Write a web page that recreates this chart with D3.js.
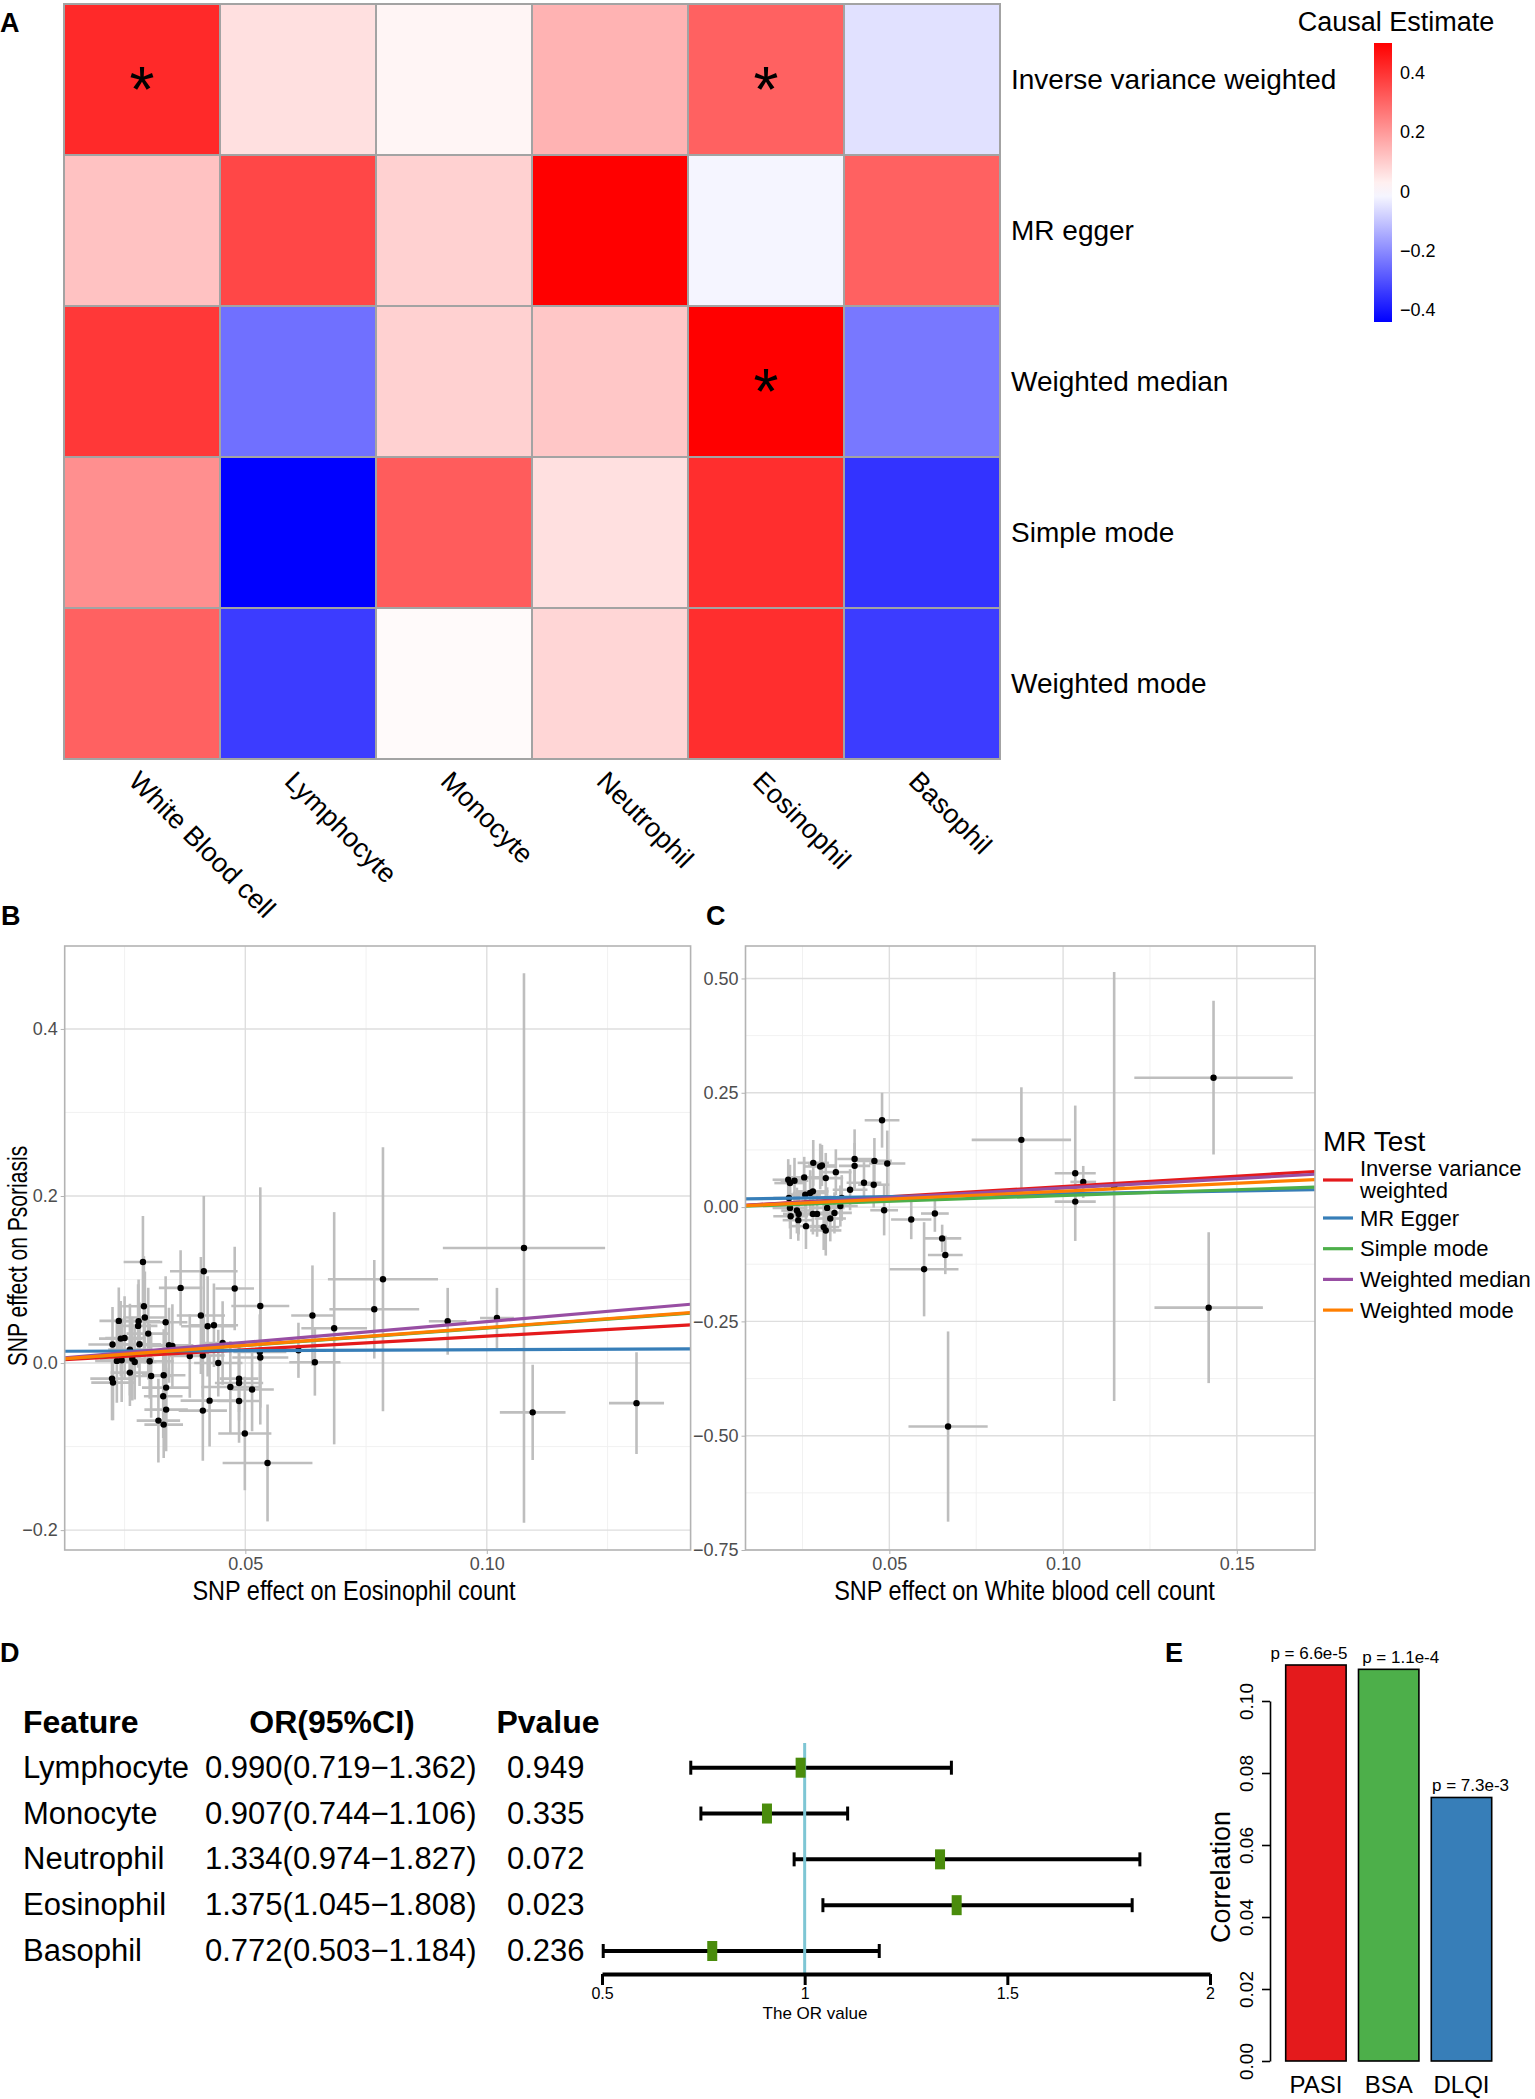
<!DOCTYPE html>
<html>
<head>
<meta charset="utf-8">
<script src="https://cdn.jsdelivr.net/npm/d3@7"></script>
<style>
  body { margin: 0; background: #fff; }
  svg { display: block; }
  svg text { font-family: "Liberation Sans", Arial, Helvetica, sans-serif; }
</style>
</head>
<body>
<svg id="fig" width="1535" height="2099"></svg>
<script>
// ---------- A: heatmap of causal estimates ----------
const cellTypes = ["White Blood cell", "Lymphocyte", "Monocyte", "Neutrophil", "Eosinophil", "Basophil"];
const heatMethods = ["Inverse variance weighted", "MR egger", "Weighted median", "Simple mode", "Weighted mode"];
const causalEst = [
  [0.42, 0.06, 0.02, 0.15, 0.31, -0.052],
  [0.12, 0.36, 0.09, 0.50, -0.017, 0.31],
  [0.39, -0.246, 0.09, 0.11, 0.50, -0.233],
  [0.22, -0.44, 0.32, 0.06, 0.41, -0.352],
  [0.31, -0.337, 0.01, 0.08, 0.41, -0.337]
];
const sigStars = [
  ["*", "", "", "", "*", ""],
  ["", "", "", "", "", ""],
  ["", "", "", "", "*", ""],
  ["", "", "", "", "", ""],
  ["", "", "", "", "", ""]
];
const legendTicks = [-0.4, -0.2, 0, 0.2, 0.4];

// ---------- B / C: MR scatter plots  [beta exposure, beta outcome, se exposure, se outcome] ----------
const mrTests = ["Inverse variance weighted", "MR Egger", "Simple mode", "Weighted median", "Weighted mode"];
const mrColors = ["#E41A1C", "#377EB8", "#4DAF4A", "#984EA3", "#FF7F00"];

const eosSnps = [
  [0.1077, 0.1377, 0.0168, 0.329], [0.1095, -0.059, 0.0068, 0.057], [0.1310, -0.048, 0.0057, 0.061],
  [0.1021, 0.054, 0.0035, 0.036], [0.0919, 0.050, 0.0039, 0.040], [0.0785, 0.1003, 0.0114, 0.158],
  [0.0767, 0.0644, 0.0093, 0.059], [0.0684, 0.0417, 0.0068, 0.139], [0.0639, 0.0569, 0.0044, 0.060],
  [0.0644, 0.0010, 0.0053, 0.040], [0.0610, 0.0153, 0.0049, 0.033], [0.0531, 0.0684, 0.0060, 0.142],
  [0.0531, 0.0066, 0.0058, 0.060], [0.0530, 0.0133, 0.0055, 0.045], [0.0546, -0.1196, 0.0093, 0.070],
  [0.0499, -0.0844, 0.0055, 0.068], [0.0478, 0.0892, 0.0040, 0.050], [0.0514, -0.0317, 0.0045, 0.050],
  [0.0487, -0.0238, 0.0050, 0.045], [0.0487, -0.0186, 0.0040, 0.040], [0.0469, -0.0286, 0.0060, 0.055],
  [0.0487, -0.0454, 0.0045, 0.050], [0.0444, 0.0000, 0.0050, 0.040], [0.0453, 0.0240, 0.0045, 0.050],
  [0.0435, 0.0453, 0.0050, 0.050], [0.0422, 0.0440, 0.0055, 0.060], [0.0414, 0.1100, 0.0070, 0.090],
  [0.0408, 0.0569, 0.0050, 0.070], [0.0412, 0.0090, 0.0045, 0.050], [0.0426, -0.0450, 0.0060, 0.055],
  [0.0412, -0.0569, 0.0050, 0.060], [0.0385, 0.0085, 0.0045, 0.050], [0.0366, 0.0900, 0.0045, 0.045],
  [0.0349, 0.0205, 0.0045, 0.050], [0.0342, 0.0213, 0.0050, 0.045], [0.0335, 0.0489, 0.0045, 0.055],
  [0.0336, -0.0294, 0.0050, 0.045], [0.0331, -0.0146, 0.0045, 0.055], [0.0330, -0.0398, 0.0040, 0.050],
  [0.0336, -0.0557, 0.0045, 0.050], [0.0320, -0.0689, 0.0045, 0.050], [0.0331, -0.0737, 0.0040, 0.040],
  [0.0305, -0.0154, 0.0045, 0.050], [0.0302, 0.0022, 0.0050, 0.045], [0.0299, 0.0353, 0.0045, 0.055],
  [0.0281, 0.0225, 0.0045, 0.050], [0.0288, 0.1210, 0.0040, 0.055], [0.0290, 0.0680, 0.0045, 0.060],
  [0.0292, 0.0545, 0.0045, 0.055], [0.0279, 0.0500, 0.0045, 0.050], [0.0278, 0.0445, 0.0040, 0.050],
  [0.0271, 0.0013, 0.0045, 0.045], [0.0266, 0.0053, 0.0045, 0.050], [0.0261, -0.0114, 0.0040, 0.040],
  [0.0261, 0.0161, 0.0045, 0.055], [0.0250, 0.0300, 0.0040, 0.050], [0.0242, 0.0293, 0.0045, 0.045],
  [0.0238, 0.0505, 0.0040, 0.040], [0.0244, 0.0034, 0.0045, 0.050], [0.0234, 0.0026, 0.0045, 0.050],
  [0.0225, 0.0222, 0.0050, 0.045], [0.0224, -0.0186, 0.0045, 0.050], [0.0226, -0.0234, 0.0045, 0.045]
];
const eosSlopes = [0.321, 0.021, 0.420, 0.495, 0.425];
const eosIntercepts = [0, 0.0139, 0, 0, 0];

const wbcSnps = [
  [0.1433, 0.283, 0.0228, 0.168], [0.1419, -0.220, 0.0156, 0.165], [0.1147, 0.045, 0.0030, 0.469],
  [0.1035, 0.074, 0.0059, 0.148], [0.1035, 0.012, 0.0059, 0.012], [0.1058, 0.055, 0.0037, 0.035],
  [0.0880, 0.147, 0.0143, 0.115], [0.0669, -0.480, 0.0114, 0.208], [0.0600, -0.136, 0.0099, 0.103],
  [0.0661, -0.1047, 0.0050, 0.042], [0.0652, -0.0685, 0.0055, 0.030], [0.0631, -0.0141, 0.0040, 0.040],
  [0.0563, -0.0272, 0.0058, 0.043], [0.0479, 0.190, 0.0050, 0.060], [0.0494, 0.0953, 0.0052, 0.072],
  [0.0485, -0.0069, 0.0040, 0.055], [0.0457, 0.101, 0.0050, 0.050], [0.0400, 0.105, 0.0050, 0.065],
  [0.0400, 0.0902, 0.0045, 0.050], [0.0427, 0.0533, 0.0050, 0.045], [0.0455, 0.0489, 0.0045, 0.050],
  [0.0387, 0.038, 0.0050, 0.045], [0.0346, 0.0764, 0.0045, 0.050], [0.0317, 0.0634, 0.0050, 0.055],
  [0.0301, 0.0888, 0.0045, 0.050], [0.0306, 0.091, 0.0040, 0.045], [0.0281, 0.0967, 0.0045, 0.050],
  [0.0255, 0.0649, 0.0050, 0.045], [0.0209, 0.0598, 0.0045, 0.045], [0.0227, 0.0576, 0.0040, 0.050],
  [0.0214, 0.0525, 0.0045, 0.040], [0.0280, 0.0344, 0.0045, 0.045], [0.0272, 0.0308, 0.0050, 0.050],
  [0.0258, 0.0272, 0.0045, 0.045], [0.0211, 0.0199, 0.0045, 0.050], [0.0214, -0.0018, 0.0050, 0.045],
  [0.0234, -0.0076, 0.0045, 0.050], [0.0239, -0.0149, 0.0045, 0.045], [0.0216, -0.0200, 0.0050, 0.050],
  [0.0238, -0.0286, 0.0045, 0.045], [0.0260, -0.0417, 0.0045, 0.050], [0.0280, -0.0149, 0.0050, 0.045],
  [0.0292, -0.0149, 0.0045, 0.050], [0.0321, -0.0018, 0.0050, 0.045], [0.0330, -0.0250, 0.0045, 0.050],
  [0.0342, -0.0127, 0.0050, 0.045], [0.0311, -0.0438, 0.0045, 0.050], [0.0317, -0.0511, 0.0045, 0.055],
  [0.0359, 0.0024, 0.0050, 0.045], [0.0363, 0.0199, 0.0045, 0.050]
];
const wbcSlopes = [0.451, 0.122, 0.254, 0.416, 0.348];
const wbcIntercepts = [0, 0.0168, 0, 0, 0];

// ---------- D: forest plot ----------
const features = ["Lymphocyte", "Monocyte", "Neutrophil", "Eosinophil", "Basophil"];
const orVal = [0.990, 0.907, 1.334, 1.375, 0.772];
const orLow = [0.719, 0.744, 0.974, 1.045, 0.503];
const orHigh = [1.362, 1.106, 1.827, 1.808, 1.184];
const pValues = ["0.949", "0.335", "0.072", "0.023", "0.236"];
const orTicks = [0.5, 1, 1.5, 2];

// ---------- E: correlation bars ----------
const scoreNames = ["PASI", "BSA", "DLQI"];
const corrVals = [0.110, 0.1088, 0.0732];
const corrP = ["p = 6.6e-5", "p = 1.1e-4", "p = 7.3e-3"];
const corrColors = ["#E41A1C", "#4DAF4A", "#377EB8"];
const corrTicks = [0, 0.02, 0.04, 0.06, 0.08, 0.10];

const svg = d3.select("#fig");
const defs = svg.append("defs");

function panelLetter(txt, x, y) {
  svg.append("text").attr("x", x).attr("y", y)
    .style("font-size", "27px").style("font-weight", "bold").text(txt);
}

// ================= A =================
const hx = d3.scaleBand().domain(cellTypes).range([64, 1000]);
const hy = d3.scaleBand().domain(heatMethods).range([4, 759]);
const estExtent = d3.extent(causalEst.flat());
const heatColor = d3.scaleLinear()
  .domain([estExtent[0], 0, estExtent[1]])
  .range(["#0000FF", "#FFFFFF", "#FF0000"]);

const cells = heatMethods.flatMap((m, i) =>
  cellTypes.map((c, j) => ({ m, c, v: causalEst[i][j], star: sigStars[i][j] })));

const heat = svg.append("g");
heat.selectAll("rect").data(cells).enter().append("rect")
  .attr("x", d => hx(d.c)).attr("y", d => hy(d.m))
  .attr("width", hx.bandwidth()).attr("height", hy.bandwidth())
  .attr("fill", d => heatColor(d.v))
  .attr("stroke", "#A3A3A3").attr("stroke-width", 2);

heat.selectAll(".star").data(cells.filter(d => d.star)).enter().append("text")
  .attr("class", "star")
  .attr("x", d => hx(d.c) + hx.bandwidth() / 2)
  .attr("y", d => hy(d.m) + hy.bandwidth() / 2)
  .attr("dy", "0.5em")
  .attr("text-anchor", "middle")
  .style("font-size", "64px")
  .text(d => d.star);

heat.selectAll(".rowlab").data(heatMethods).enter().append("text")
  .attr("x", 1011).attr("y", d => hy(d) + hy.bandwidth() / 2)
  .attr("dy", "0.35em").style("font-size", "28px").text(d => d);

heat.selectAll(".collab").data(cellTypes).enter().append("text")
  .attr("transform", d => `translate(${hx(d) + hx.bandwidth() / 2 - 8},776) rotate(45)`)
  .attr("dy", "0.35em").style("font-size", "27px").text(d => d);

// colour bar
const cbY = d3.scaleLinear().domain(estExtent).range([322, 43]);
const grad = defs.append("linearGradient").attr("id", "cbar")
  .attr("x1", 0).attr("y1", 1).attr("x2", 0).attr("y2", 0);
grad.selectAll("stop").data(d3.range(0, 1.0001, 0.05)).enter().append("stop")
  .attr("offset", t => t)
  .attr("stop-color", t => heatColor(estExtent[0] + t * (estExtent[1] - estExtent[0])));
svg.append("rect").attr("x", 1374).attr("y", cbY(estExtent[1]))
  .attr("width", 18).attr("height", cbY(estExtent[0]) - cbY(estExtent[1]))
  .attr("fill", "url(#cbar)");
svg.selectAll(".cbtick").data(legendTicks).enter().append("text")
  .attr("x", 1400).attr("y", d => cbY(d)).attr("dy", "0.35em")
  .style("font-size", "18px").text(d => d3.format("")(d));
svg.append("text").attr("x", 1396).attr("y", 31).attr("text-anchor", "middle")
  .style("font-size", "27px").text("Causal Estimate");
panelLetter("A", 0, 32);

// ================= B & C =================
function scatterPanel(cfg) {
  const g = svg.append("g");
  const x = d3.scaleLinear().domain(cfg.xDomain).range(cfg.xRange);
  const y = d3.scaleLinear().domain(cfg.yDomain).range(cfg.yRange);
  const [x0, x1] = cfg.xRange;
  const [yb, yt] = cfg.yRange;

  const grid = [
    { vals: cfg.xMinor, vert: true, c: "#EFEFEF", w: 0.9 },
    { vals: cfg.yMinor, vert: false, c: "#EFEFEF", w: 0.9 },
    { vals: cfg.xTicks, vert: true, c: "#DEDEDE", w: 1.4 },
    { vals: cfg.yTicks, vert: false, c: "#DEDEDE", w: 1.4 }
  ];
  grid.forEach(gr => {
    g.selectAll(null).data(gr.vals).enter().append("line")
      .attr("x1", d => gr.vert ? x(d) : x0).attr("x2", d => gr.vert ? x(d) : x1)
      .attr("y1", d => gr.vert ? yb : y(d)).attr("y2", d => gr.vert ? yt : y(d))
      .attr("stroke", gr.c).attr("stroke-width", gr.w);
  });

  defs.append("clipPath").attr("id", cfg.id + "-clip").append("rect")
    .attr("x", x0).attr("y", yt).attr("width", x1 - x0).attr("height", yb - yt);
  const plot = g.append("g").attr("clip-path", `url(#${cfg.id}-clip)`);

  plot.selectAll(".ev").data(cfg.data).enter().append("line")
    .attr("x1", d => x(d[0])).attr("x2", d => x(d[0]))
    .attr("y1", d => y(d[1] - d[3])).attr("y2", d => y(d[1] + d[3]))
    .attr("stroke", "#BEBEBE").attr("stroke-width", 2.6);
  plot.selectAll(".eh").data(cfg.data).enter().append("line")
    .attr("x1", d => x(d[0] - d[2])).attr("x2", d => x(d[0] + d[2]))
    .attr("y1", d => y(d[1])).attr("y2", d => y(d[1]))
    .attr("stroke", "#BEBEBE").attr("stroke-width", 2.6);
  plot.selectAll("circle").data(cfg.data).enter().append("circle")
    .attr("cx", d => x(d[0])).attr("cy", d => y(d[1])).attr("r", 3.2).attr("fill", "#000");

  plot.selectAll(".mr").data(mrTests).enter().append("line")
    .attr("x1", x0).attr("x2", x1)
    .attr("y1", (d, i) => y(cfg.intercepts[i] + cfg.slopes[i] * cfg.xDomain[0]))
    .attr("y2", (d, i) => y(cfg.intercepts[i] + cfg.slopes[i] * cfg.xDomain[1]))
    .attr("stroke", (d, i) => mrColors[i]).attr("stroke-width", 3.2);

  g.append("rect").attr("x", x0).attr("y", yt).attr("width", x1 - x0).attr("height", yb - yt)
    .attr("fill", "none").attr("stroke", "#B3B3B3").attr("stroke-width", 1.6);

  const xa = g.append("g").attr("transform", `translate(0,${yb})`)
    .call(d3.axisBottom(x).tickValues(cfg.xTicks).tickFormat(d3.format(".2f")).tickSize(4).tickSizeOuter(0));
  const ya = g.append("g").attr("transform", `translate(${x0},0)`)
    .call(d3.axisLeft(y).tickValues(cfg.yTicks).tickFormat(d3.format(cfg.yFormat)).tickSize(4).tickSizeOuter(0));
  [xa, ya].forEach(a => {
    a.select(".domain").remove();
    a.selectAll("line").attr("stroke", "#B3B3B3");
    a.selectAll("text").style("font-size", "18px").attr("fill", "#4D4D4D")
      .style("font-family", "'Liberation Sans', Arial, sans-serif");
  });
  xa.selectAll("text").attr("y", 7);

  // the axis titles of these two panels are drawn narrow and tall in the original
  g.append("text").attr("transform", `translate(${cfg.xTitleX},1600) scale(0.84,1)`)
    .attr("text-anchor", "middle").style("font-size", "28px").text(cfg.xTitle);
  if (cfg.yTitle) {
    g.append("text").attr("transform", `translate(27,${cfg.yTitleY}) rotate(-90) scale(0.78,1)`)
      .attr("text-anchor", "middle").style("font-size", "27px").text(cfg.yTitle);
  }
}

scatterPanel({
  id: "pb", data: eosSnps, slopes: eosSlopes, intercepts: eosIntercepts,
  xDomain: [0.0126, 0.1422], xRange: [64.7, 690.6],
  yDomain: [-0.2238, 0.4993], yRange: [1550, 946],
  xTicks: [0.05, 0.10], xMinor: [0.025, 0.075, 0.125],
  yTicks: [-0.2, 0, 0.2, 0.4], yMinor: [-0.1, 0.1, 0.3], yFormat: ".1f",
  xTitle: "SNP effect on Eosinophil count", xTitleX: 354,
  yTitle: "SNP effect on Psoriasis", yTitleY: 1256
});
scatterPanel({
  id: "pc", data: wbcSnps, slopes: wbcSlopes, intercepts: wbcIntercepts,
  xDomain: [0.0086, 0.1725], xRange: [745.5, 1315],
  yDomain: [-0.75, 0.571], yRange: [1550, 946],
  xTicks: [0.05, 0.10, 0.15], xMinor: [0.025, 0.075, 0.125],
  yTicks: [-0.75, -0.5, -0.25, 0, 0.25, 0.5], yMinor: [-0.625, -0.375, -0.125, 0.125, 0.375], yFormat: ".2f",
  xTitle: "SNP effect on White blood cell count", xTitleX: 1024.5
});
panelLetter("B", 1, 925);
panelLetter("C", 706, 925);

// MR Test legend
const leg = svg.append("g");
leg.append("text").attr("x", 1323).attr("y", 1151).style("font-size", "28px").text("MR Test");
const keyY = i => i === 0 ? 1180 : 1218 + (i - 1) * 30.7;
leg.selectAll("line").data(mrTests).enter().append("line")
  .attr("x1", 1323).attr("x2", 1353).attr("y1", (d, i) => keyY(i)).attr("y2", (d, i) => keyY(i))
  .attr("stroke", (d, i) => mrColors[i]).attr("stroke-width", 3.2);
leg.selectAll(".lt").data(mrTests).enter().append("text")
  .attr("x", 1360).attr("y", (d, i) => keyY(i)).attr("dy", "0.35em")
  .style("font-size", "22px")
  .each(function (d, i) {
    const t = d3.select(this);
    if (i === 0) {
      t.attr("dy", null);
      t.append("tspan").attr("x", 1360).attr("y", keyY(i) - 4).text("Inverse variance");
      t.append("tspan").attr("x", 1360).attr("y", keyY(i) + 18).text("weighted");
    } else {
      t.text(d);
    }
  });

// ================= D =================
const fx = d3.scaleLinear().domain([0.5, 2]).range([602, 1210]);
const fy = d3.scalePoint().domain(features).range([1767.7, 1951]);
const forest = svg.append("g");
const orText = features.map((f, i) =>
  `${orVal[i].toFixed(3)}(${orLow[i].toFixed(3)}\u2212${orHigh[i].toFixed(3)})`);

forest.append("text").attr("x", 23).attr("y", 1733)
  .style("font-size", "32px").style("font-weight", "bold").text("Feature");
forest.append("text").attr("x", 332).attr("y", 1733).attr("text-anchor", "middle")
  .style("font-size", "32px").style("font-weight", "bold").text("OR(95%CI)");
forest.append("text").attr("x", 548).attr("y", 1733).attr("text-anchor", "middle")
  .style("font-size", "32px").style("font-weight", "bold").text("Pvalue");

const rows = forest.selectAll(".row").data(features).enter().append("g")
  .attr("transform", d => `translate(0,${fy(d) + 10})`);
rows.append("text").attr("x", 23).style("font-size", "31px").text(d => d);
rows.append("text").attr("x", 205).style("font-size", "31px").text((d, i) => orText[i]);
rows.append("text").attr("x", 507).style("font-size", "31px").text((d, i) => pValues[i]);

forest.selectAll(".ci").data(features).enter().append("line")
  .attr("x1", (d, i) => fx(orLow[i])).attr("x2", (d, i) => fx(orHigh[i]))
  .attr("y1", d => fy(d)).attr("y2", d => fy(d))
  .attr("stroke", "#000").attr("stroke-width", 4);
[orLow, orHigh].forEach(arr => {
  forest.selectAll(null).data(features).enter().append("line")
    .attr("x1", (d, i) => fx(arr[i])).attr("x2", (d, i) => fx(arr[i]))
    .attr("y1", d => fy(d) - 7).attr("y2", d => fy(d) + 7)
    .attr("stroke", "#000").attr("stroke-width", 3);
});
forest.append("line").attr("x1", fx(1)).attr("x2", fx(1)).attr("y1", 1743).attr("y2", 1974)
  .attr("stroke", "#7EC6D4").attr("stroke-width", 3);
forest.selectAll(".box").data(features).enter().append("rect")
  .attr("x", (d, i) => fx(orVal[i]) - 5).attr("y", d => fy(d) - 10)
  .attr("width", 10).attr("height", 20).attr("fill", "#4A8C0C");

const fAxis = forest.append("g").attr("transform", "translate(0,1974)")
  .call(d3.axisBottom(fx).tickValues(orTicks).tickFormat(d3.format("")).tickSize(11).tickSizeOuter(0));
fAxis.select(".domain").attr("stroke-width", 4).attr("stroke", "#000");
fAxis.selectAll(".tick line").attr("stroke-width", 3).attr("stroke", "#000");
fAxis.selectAll("text").style("font-size", "16px").attr("fill", "#000")
  .style("font-family", "'Liberation Sans', Arial, sans-serif");
forest.append("text").attr("x", 815).attr("y", 2019).attr("text-anchor", "middle")
  .style("font-size", "17px").text("The OR value");
panelLetter("D", 0, 1662);

// ================= E =================
const ey = d3.scaleLinear().domain([0, 0.10]).range([2061, 1701]);
const ex = d3.scaleBand().domain(scoreNames).range([1285.7, 1491.7]).paddingInner(0.17);
const pLabelDx = [-7, 12, 9]; // labels are nudged apart so they don't touch
const bars = svg.append("g");
bars.selectAll("rect").data(scoreNames).enter().append("rect")
  .attr("x", d => ex(d)).attr("width", ex.bandwidth())
  .attr("y", (d, i) => ey(corrVals[i])).attr("height", (d, i) => ey(0) - ey(corrVals[i]))
  .attr("fill", (d, i) => corrColors[i]).attr("stroke", "#000").attr("stroke-width", 1.6);
bars.selectAll(".pl").data(scoreNames).enter().append("text")
  .attr("x", (d, i) => ex(d) + ex.bandwidth() / 2 + pLabelDx[i]).attr("y", (d, i) => ey(corrVals[i]) - 6)
  .attr("text-anchor", "middle").style("font-size", "17px").text((d, i) => corrP[i]);
bars.selectAll(".nl").data(scoreNames).enter().append("text")
  .attr("x", d => ex(d) + ex.bandwidth() / 2).attr("y", 2093)
  .attr("text-anchor", "middle").style("font-size", "24px").text(d => d);

const eAxis = bars.append("g").attr("transform", "translate(1270,0)")
  .call(d3.axisLeft(ey).tickValues(corrTicks).tickFormat(d3.format(".2f")).tickSize(8).tickSizeOuter(0));
eAxis.select(".domain").attr("stroke-width", 1.6);
eAxis.selectAll(".tick line").attr("stroke-width", 1.6);
eAxis.selectAll("text")
  .attr("transform", "rotate(-90)").attr("x", 0).attr("y", -17).attr("dy", null)
  .attr("text-anchor", "middle").attr("fill", "#000")
  .style("font-size", "19px").style("font-family", "'Liberation Sans', Arial, sans-serif");
bars.append("text").attr("transform", "translate(1230,1877) rotate(-90)")
  .attr("text-anchor", "middle").style("font-size", "27px").text("Correlation");
panelLetter("E", 1165, 1662);
</script>
</body>
</html>
